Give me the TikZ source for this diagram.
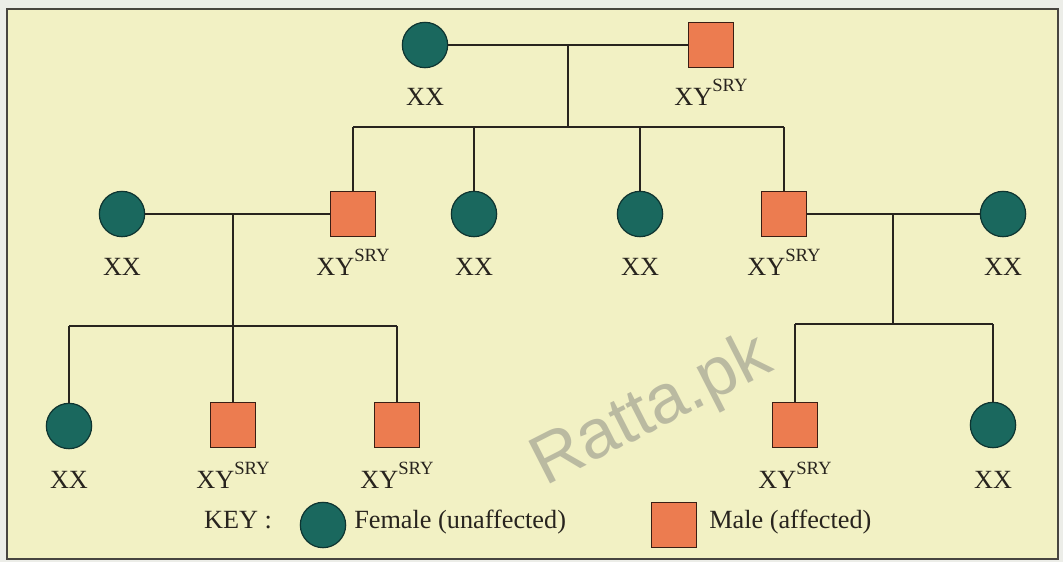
\documentclass[tikz,border=0pt]{standalone}
\usepackage{fontspec}
\setmainfont{Liberation Serif}
\newfontfamily\wmfont{Liberation Sans}
\definecolor{bgpaper}{RGB}{242,241,196}
\definecolor{margin}{RGB}{236,237,232}
\definecolor{femfill}{RGB}{26,104,94}
\definecolor{femline}{RGB}{14,52,48}
\definecolor{malefill}{RGB}{236,124,80}
\definecolor{maleline}{RGB}{58,30,20}
\definecolor{inkline}{RGB}{40,36,30}
\definecolor{wmgray}{RGB}{150,150,138}
\newcommand{\sry}{\raisebox{10.5pt}{\fontsize{14}{14}\selectfont SRY}}
\begin{document}
\begin{tikzpicture}[x=0.75pt,y=-0.75pt,
  female/.style={circle, draw=femline, line width=0.9pt, fill=femfill, minimum size=34pt, inner sep=0pt},
  male/.style={rectangle, draw=maleline, line width=0.9pt, fill=malefill, minimum size=33.5pt, inner sep=0pt},
  lbl/.style={font=\fontsize{19.7}{22}\selectfont, text=inkline, anchor=base, inner sep=0pt},
  keytxt/.style={font=\fontsize{19.7}{22}\selectfont, text=inkline, anchor=base west, inner sep=0pt},
  conn/.style={draw=inkline, line width=0.8pt}]
\useasboundingbox (0,0) rectangle (1063,562);
\fill[margin] (0,0) rectangle (1063,562);
\fill[bgpaper] (7,9) rectangle (1058,559);
\draw[inkline!85, line width=1.4pt] (7,9) rectangle (1058,559);
% watermark
\node[font=\wmfont\fontsize{52}{56}\selectfont, text=wmgray, opacity=0.6, rotate=27] (wm) at (652,412) {Ratta.pk};
% generation 1
\node[female] (g1f) at (425,45) {};
\node[male] (g1m) at (711,45) {};
\node[lbl] (g1fl) at (425,105) {XX};
\node[lbl] (g1ml) at (711,105) {XY\sry};
\coordinate (g1d) at (568,45);
\coordinate (s1) at (568,127);
\coordinate (s1l) at (353,127);
\coordinate (s1r) at (784,127);
\coordinate (s1b) at (474,127);
\coordinate (s1c) at (640,127);
\draw[conn] (g1f) -- (g1m);
\draw[conn] (g1d) -- (s1);
\draw[conn] (s1l) -- (s1r);
% generation 2
\node[female] (g2a) at (122,214) {};
\node[male] (g2b) at (353,214) {};
\node[female] (g2c) at (474,214) {};
\node[female] (g2d) at (640,214) {};
\node[male] (g2e) at (784,214) {};
\node[female] (g2f) at (1003,214) {};
\node[lbl] (g2al) at (122,275) {XX};
\node[lbl] (g2bl) at (353,275) {XY\sry};
\node[lbl] (g2cl) at (474,275) {XX};
\node[lbl] (g2dl) at (640,275) {XX};
\node[lbl] (g2el) at (784,275) {XY\sry};
\node[lbl] (g2fl) at (1003,275) {XX};
\draw[conn] (s1l) -- (g2b.north);
\draw[conn] (s1b) -- (g2c.north);
\draw[conn] (s1c) -- (g2d.north);
\draw[conn] (s1r) -- (g2e.north);
\draw[conn] (g2a) -- (g2b);
\draw[conn] (g2e) -- (g2f);
% left family, generation 3
\coordinate (m2l) at (233,214);
\coordinate (s2l) at (233,326);
\coordinate (s2la) at (69,326);
\coordinate (s2lc) at (397,326);
\draw[conn] (m2l) -- (s2l);
\draw[conn] (s2la) -- (s2lc);
\node[female] (g3a) at (69,426) {};
\node[male] (g3b) at (233,425) {};
\node[male] (g3c) at (397,425) {};
\node[lbl] (g3al) at (69,488) {XX};
\node[lbl] (g3bl) at (233,488) {XY\sry};
\node[lbl] (g3cl) at (397,488) {XY\sry};
\draw[conn] (s2la) -- (g3a.north);
\draw[conn] (s2l) -- (g3b.north);
\draw[conn] (s2lc) -- (g3c.north);
% right family, generation 3
\coordinate (m2r) at (893,214);
\coordinate (s2r) at (893,324);
\coordinate (s2ra) at (795,324);
\coordinate (s2rb) at (993,324);
\draw[conn] (m2r) -- (s2r);
\draw[conn] (s2ra) -- (s2rb);
\node[male] (g3d) at (795,425) {};
\node[female] (g3e) at (993,425) {};
\node[lbl] (g3dl) at (795,488) {XY\sry};
\node[lbl] (g3el) at (993,488) {XX};
\draw[conn] (s2ra) -- (g3d.north);
\draw[conn] (s2rb) -- (g3e.north);
% key
\node[lbl] (key) at (238,528) {KEY :};
\node[female] (keyf) at (323,525) {};
\node[keytxt] (keyft) at (354,528) {Female (unaffected)};
\node[male] (keym) at (674,525) {};
\node[keytxt] (keymt) at (709,528) {Male (affected)};
\end{tikzpicture}
\end{document}
